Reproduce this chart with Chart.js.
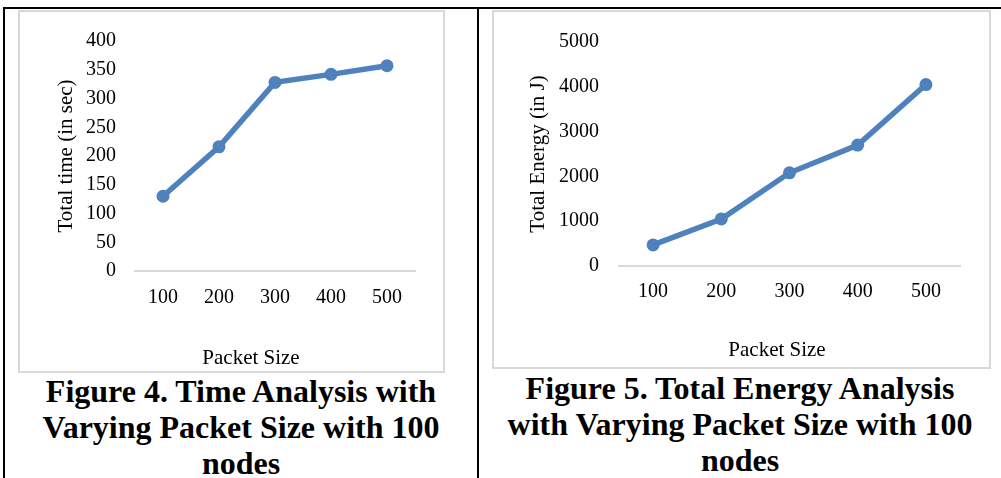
<!DOCTYPE html>
<html>
<head>
<meta charset="utf-8">
<script src="https://cdn.jsdelivr.net/npm/chart.js@4/dist/chart.umd.min.js"></script>
<style>
  html, body { margin: 0; padding: 0; background: #fff; }
  #page { position: relative; width: 1001px; height: 478px; overflow: hidden; background: #fff; }
  .rule { position: absolute; background: #000; }
  .frame { position: absolute; box-sizing: border-box; border: 2px solid #d9d9d9; background: #fff; }
  canvas { position: absolute; }
  .caption {
    position: absolute; text-align: center; color: #000;
    font-family: "Liberation Serif", "Times New Roman", serif;
    font-weight: bold; font-size: 32px; line-height: 36px;
  }
</style>
</head>
<body>
<div id="page">
  <div class="rule" style="left:3px; top:7px; width:998px; height:2px;"></div>
  <div class="rule" style="left:3px; top:7px; width:2px; height:471px;"></div>
  <div class="rule" style="left:477px; top:7px; width:2px; height:471px;"></div>

  <div class="frame" style="left:18px; top:10px; width:427px; height:363px;"></div>
  <canvas id="timeChart" width="427" height="363" style="left:18px; top:10px;"></canvas>
  <div class="frame" style="left:492px; top:10px; width:499px; height:359px;"></div>
  <canvas id="energyChart" width="499" height="359" style="left:492px; top:10px;"></canvas>

  <div class="caption" style="left:4px; top:373px; width:474px;">Figure 4. Time Analysis with<br>Varying Packet Size with 100<br>nodes</div>
  <div class="caption" style="left:479px; top:370px; width:522px;">Figure 5. Total Energy Analysis<br>with Varying Packet Size with 100<br>nodes</div>
</div>
<script>
// Packet sizes on the x axis, shared by both figures
const packetSizes = ['100', '200', '300', '400', '500'];

// Figure 4: total time in seconds
const totalTimeSec = [130, 216, 328, 342, 357];
const timeAxisMax = 400;
const timeAxisStep = 50;

// Figure 5: total energy in joules
const totalEnergyJ = [470, 1050, 2080, 2700, 4050];
const energyAxisMax = 5000;
const energyAxisStep = 1000;

const SERIF = '"Liberation Serif", "Times New Roman", serif';
const LINE_BLUE = '#4f81bd';

// Draws the x axis title at a fixed spot below the category labels
const xAxisTitle = {
  id: 'xAxisTitle',
  afterDraw(chart, args, opts) {
    const ctx = chart.ctx;
    ctx.save();
    ctx.font = '21px ' + SERIF;
    ctx.fillStyle = '#000';
    ctx.textAlign = 'center';
    ctx.textBaseline = 'middle';
    ctx.fillText(opts.text, opts.x, opts.y);
    ctx.restore();
  }
};

function lineChart(id, values, yMax, yStep, yTitle, g) {
  return new Chart(document.getElementById(id), {
    type: 'line',
    data: {
      labels: packetSizes,
      datasets: [{
        data: values,
        borderColor: LINE_BLUE,
        backgroundColor: LINE_BLUE,
        borderWidth: 5.5,
        pointRadius: 6.5,
        pointBorderWidth: 0,
        pointBackgroundColor: LINE_BLUE,
        tension: 0,
        fill: false
      }]
    },
    options: {
      responsive: false,
      animation: false,
      devicePixelRatio: 1,
      layout: { padding: { left: 0, right: g.padRight, top: g.padTop, bottom: 0 } },
      plugins: {
        legend: { display: false },
        tooltip: { enabled: false },
        xAxisTitle: { text: 'Packet Size', x: g.xTitleX, y: g.xTitleY }
      },
      scales: {
        x: {
          offset: true,
          grid: { display: false, drawTicks: false },
          border: { display: true, color: '#d9d9d9', width: 2 },
          ticks: { color: '#000', font: { family: SERIF, size: 20 }, padding: g.xTickPad, maxRotation: 0 },
          afterFit(scale) { scale.height = g.xAxisHeight; }
        },
        y: {
          min: 0,
          max: yMax,
          grid: { display: false, drawTicks: false },
          border: { display: false },
          ticks: {
            stepSize: yStep,
            color: '#000',
            font: { family: SERIF, size: 20 },
            padding: g.yTickPad,
            callback: (v) => String(v)
          },
          title: {
            display: true,
            text: yTitle,
            color: '#000',
            font: { family: SERIF, size: 21 },
            padding: { top: g.yTitlePad, bottom: 0 }
          },
          afterFit(scale) { scale.width = g.yAxisWidth; }
        }
      }
    },
    plugins: [xAxisTitle]
  });
}

lineChart('timeChart', totalTimeSec, timeAxisMax, timeAxisStep, 'Total time (in sec)', {
  padRight: 30, padTop: 28, xAxisHeight: 102, yAxisWidth: 117,
  yTickPad: 19, xTickPad: 15, yTitlePad: 36, xTitleX: 233, xTitleY: 348
});

lineChart('energyChart', totalEnergyJ, energyAxisMax, energyAxisStep, 'Total Energy (in J)', {
  padRight: 31, padTop: 27, xAxisHeight: 103, yAxisWidth: 127,
  yTickPad: 20, xTickPad: 14, yTitlePad: 34, xTitleX: 285, xTitleY: 340
});
</script>
</body>
</html>
